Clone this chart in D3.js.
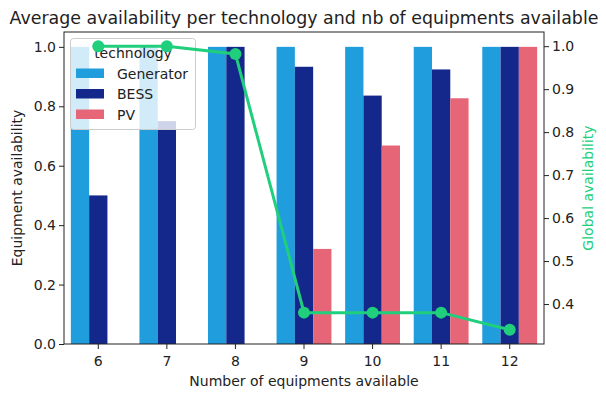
<!DOCTYPE html>
<html><head><meta charset="utf-8">
<script src="https://cdn.jsdelivr.net/npm/d3@7"></script>
<style>body{margin:0;background:#fff}svg{display:block}text{font-family:"DejaVu Sans",sans-serif}</style>
</head><body><svg id="c" width="606" height="398"></svg>
<script>
const categories = ["6","7","8","9","10","11","12"];
const technologies = ["Generator","BESS","PV"];
const generator = [1.0,1.0,1.0,1.0,1.0,1.0,1.0];
const bess = [0.5,0.75,1.0,0.933,0.836,0.924,1.0];
const pv = [0,0,0,0.32,0.668,0.827,1.0];
const globalAvail = [1.0,1.0,0.982,0.38,0.38,0.38,0.34];
const leftTicks = [0,0.2,0.4,0.6,0.8,1.0];
const rightTicks = [0.4,0.5,0.6,0.7,0.8,0.9,1.0];
const colors = ["#209ddd","#13288a","#e66677"];
const lineColor = "#20cf7c";
const series = [generator,bess,pv];

const svg = d3.select("#c");
const L=64,R=544,T=32,B=344;
const x = d3.scaleBand().domain(categories).range([L,R]).padding(0);
const y = d3.scaleLinear().domain([0,1.05]).range([B,T]);
const gmin = d3.min(globalAvail), gmax = d3.max(globalAvail), gr=gmax-gmin;
const y2 = d3.scaleLinear().domain([gmin-0.05*gr,gmax+0.05*gr]).range([B,T]);

const gw = x.bandwidth()*0.8, bw = gw/3;
technologies.forEach((t,i)=>{
  svg.append("g").selectAll("rect").data(series[i]).join("rect")
    .attr("x",(d,j)=>x(categories[j])+x.bandwidth()/2-gw/2+i*bw)
    .attr("width",bw)
    .attr("y",d=>y(d)).attr("height",d=>B-y(d))
    .attr("fill",colors[i]);
});
const fs=14;
const ax = svg.append("g").attr("transform",`translate(0,${B})`).call(d3.axisBottom(x).tickSize(5).tickSizeOuter(0));
const ay = svg.append("g").attr("transform",`translate(${L},0)`).call(d3.axisLeft(y).tickValues(leftTicks).tickFormat(d3.format(".1f")).tickSize(5).tickSizeOuter(0));
const ay2 = svg.append("g").attr("transform",`translate(${R},0)`).call(d3.axisRight(y2).tickValues(rightTicks).tickFormat(d3.format(".1f")).tickSize(5).tickSizeOuter(0));
[ax,ay,ay2].forEach(g=>{g.select(".domain").remove();g.selectAll("text").attr("font-size",fs).attr("font-family","DejaVu Sans").attr("fill","#222");g.selectAll("line").attr("stroke","#222");});
ax.selectAll("text").attr("dy","1.0em");
svg.append("rect").attr("x",L).attr("y",T).attr("width",R-L).attr("height",B-T).attr("fill","none").attr("stroke","#222").attr("stroke-width",1);

const lg = svg.append("g");
lg.append("rect").attr("x",70.5).attr("y",38.5).attr("width",125).attr("height",91).attr("rx",3)
  .attr("fill","#fff").attr("fill-opacity",0.8).attr("stroke","#ccc");
lg.append("text").attr("x",133).attr("y",58).attr("text-anchor","middle").attr("font-size",fs).attr("fill","#222").text("technology");
technologies.forEach((t,i)=>{
  lg.append("rect").attr("x",76).attr("y",68.5+i*20.5).attr("width",28).attr("height",9.5).attr("fill",colors[i]);
  lg.append("text").attr("x",117).attr("y",78.5+i*20.5).attr("font-size",fs).attr("fill","#222").text(t);
});

const line = d3.line().x((d,i)=>x(categories[i])+x.bandwidth()/2).y(d=>y2(d));
svg.append("path").datum(globalAvail).attr("d",line).attr("fill","none").attr("stroke",lineColor).attr("stroke-width",3);
svg.append("g").selectAll("circle").data(globalAvail).join("circle")
  .attr("cx",(d,i)=>x(categories[i])+x.bandwidth()/2).attr("cy",d=>y2(d)).attr("r",6).attr("fill",lineColor);

svg.append("text").attr("x",(L+R)/2).attr("y",24).attr("text-anchor","middle").attr("font-size",17.4).attr("fill","#222").text("Average availability per technology and nb of equipments available");
svg.append("text").attr("x",(L+R)/2).attr("y",386).attr("text-anchor","middle").attr("font-size",fs).attr("fill","#222").text("Number of equipments available");
svg.append("text").attr("transform",`translate(22,${(T+B)/2}) rotate(-90)`).attr("text-anchor","middle").attr("font-size",fs).attr("fill","#222").text("Equipment availability");
svg.append("text").attr("transform",`translate(593,${(T+B)/2}) rotate(-90)`).attr("text-anchor","middle").attr("font-size",fs).attr("fill",lineColor).text("Global availability");
</script></body></html>
